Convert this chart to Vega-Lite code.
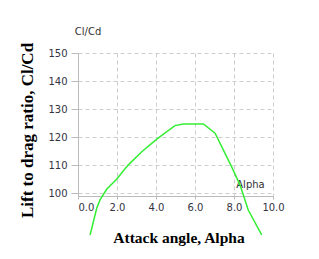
{
  "$schema": "https://vega.github.io/schema/vega-lite/v6.json",
  "width": 195,
  "height": 143,
  "autosize": {"type": "none"},
  "padding": {"left": 78, "top": 53, "right": 46, "bottom": 63},
  "background": "white",
  "config": {"view": {"stroke": null}},
  "data": {"values": [
    {"alpha": 0.62, "ratio": 85.1},
    {"alpha": 0.96, "ratio": 94.6},
    {"alpha": 1.13, "ratio": 97.6},
    {"alpha": 1.47, "ratio": 101.4},
    {"alpha": 1.98, "ratio": 105.0},
    {"alpha": 2.58, "ratio": 110.1},
    {"alpha": 3.27, "ratio": 114.8},
    {"alpha": 4.04, "ratio": 119.3},
    {"alpha": 4.97, "ratio": 124.1},
    {"alpha": 5.40, "ratio": 124.7},
    {"alpha": 6.43, "ratio": 124.7},
    {"alpha": 7.03, "ratio": 121.4},
    {"alpha": 7.88, "ratio": 109.4},
    {"alpha": 8.31, "ratio": 102.9},
    {"alpha": 8.73, "ratio": 94.0},
    {"alpha": 9.42, "ratio": 85.1}
  ]},
  "resolve": {"axis": {"x": "independent", "y": "independent"}},
  "layer": [
    {
      "mark": {"type": "line", "color": "#33ee33", "strokeWidth": 1.5, "clip": false},
      "encoding": {
        "x": {
          "field": "alpha", "type": "quantitative",
          "scale": {"domain": [0, 10], "nice": false, "zero": false},
          "axis": {
            "orient": "bottom",
            "values": [0, 2, 4, 6, 8, 10],
            "format": ".1f",
            "grid": true, "gridColor": "#cccccc", "gridDash": [4, 3],
            "domainColor": "#bbbbbb", "tickColor": "#bbbbbb", "tickSize": 3,
            "labelColor": "#333344", "labelFont": "DejaVu Sans", "labelFontSize": 10, "labelPadding": 3,
            "labelAlign": {"condition": {"test": "datum.value === 0", "value": "left"}, "value": "center"},
            "labelFlush": false,
            "title": "Alpha", "titleX": 172, "titleY": -12,
            "titleAlign": "center", "titleBaseline": "middle",
            "titleFont": "DejaVu Sans", "titleFontSize": 10, "titleFontWeight": "normal", "titleColor": "#333333"
          }
        },
        "y": {
          "field": "ratio", "type": "quantitative",
          "scale": {"domain": [99, 150], "nice": false, "zero": false},
          "axis": {
            "orient": "left",
            "values": [100, 110, 120, 130, 140, 150],
            "grid": true, "gridColor": "#cccccc", "gridDash": [4, 3],
            "domainColor": "#bbbbbb", "tickColor": "#bbbbbb", "tickSize": 7,
            "labelColor": "#333344", "labelFont": "DejaVu Sans", "labelFontSize": 10, "labelPadding": 4,
            "title": "Cl/Cd", "titleAngle": 0, "titleX": 9.5, "titleY": -22,
            "titleAlign": "center", "titleBaseline": "middle",
            "titleFont": "DejaVu Sans", "titleFontSize": 10, "titleFontWeight": "normal", "titleColor": "#333333"
          }
        }
      }
    },
    {
      "mark": {"type": "line", "opacity": 0, "clip": false},
      "encoding": {
        "x": {
          "field": "alpha", "type": "quantitative",
          "axis": {
            "orient": "bottom", "labels": false, "ticks": false, "domain": false, "grid": false,
            "title": "Attack angle, Alpha", "titleX": 100.5, "titleY": 41,
            "titleAlign": "center", "titleBaseline": "middle",
            "titleFont": "Liberation Serif", "titleFontSize": 15.5, "titleFontWeight": "bold", "titleColor": "#000000"
          }
        },
        "y": {
          "field": "ratio", "type": "quantitative",
          "axis": {
            "orient": "left", "labels": false, "ticks": false, "domain": false, "grid": false,
            "title": "Lift to drag ratio, Cl/Cd", "titleX": -51, "titleY": 77, "titleAngle": 270,
            "titleAlign": "center", "titleBaseline": "middle",
            "titleFont": "Liberation Serif", "titleFontSize": 17, "titleFontWeight": "bold", "titleColor": "#000000"
          }
        }
      }
    }
  ]
}
